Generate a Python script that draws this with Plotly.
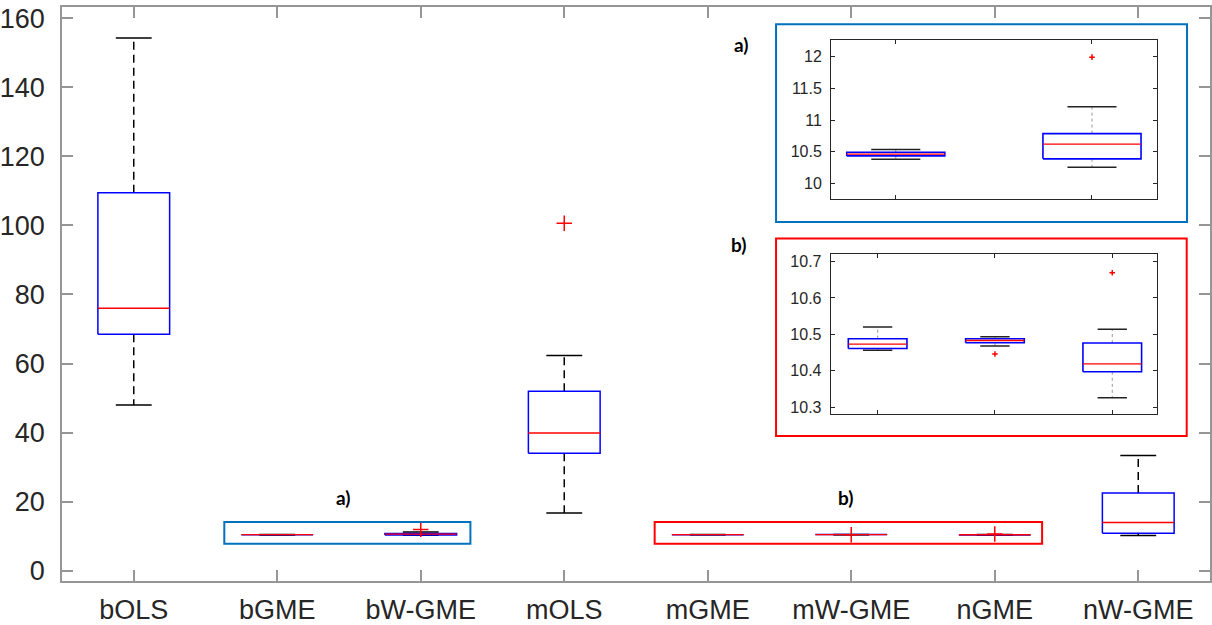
import plotly.graph_objects as go

# ---------------- data ----------------
categories = ["bOLS", "bGME", "bW-GME", "mOLS", "mGME", "mW-GME", "nGME", "nW-GME"]
lower_whisker = [48.0, 10.384, 10.258, 16.7, 10.456, 10.468, 10.326, 10.2]
q1_vals = [68.5, 10.436, 10.389, 34.0, 10.461, 10.477, 10.397, 10.9]
median_vals = [76.0, 10.463, 10.620, 39.9, 10.473, 10.483, 10.419, 14.0]
q3_vals = [109.4, 10.494, 10.787, 52.0, 10.488, 10.488, 10.476, 22.5]
upper_whisker = [154.2, 10.535, 11.210, 62.3, 10.520, 10.493, 10.514, 33.4]

outlier_cat = ["bW-GME", "mOLS", "mW-GME", "nGME"]
outlier_val = [11.99, 100.6, 10.446, 10.669]

inset_a_members = ["bGME", "bW-GME"]
inset_b_members = ["mGME", "mW-GME", "nGME"]

main_yticks = [0, 20, 40, 60, 80, 100, 120, 140, 160]
inset_a_yticks = [10, 10.5, 11, 11.5, 12]
inset_a_yticktext = ["10", "10.5", "11", "11.5", "12"]
inset_b_yticks = [10.3, 10.4, 10.5, 10.6, 10.7]
inset_b_yticktext = ["10.3", "10.4", "10.5", "10.6", "10.7"]

BOX_W = 0.5
BLUE_BOX = "rgb(0,0,255)"
RED = "rgb(255,0,0)"
MATLAB_BLUE = "rgb(0,114,189)"
TICK_FONT = "Liberation Sans, Arial, sans-serif"

fig = go.Figure()


def add_boxes(members, xa, ya, style):
    bx, by, mx, my, wx, wy, cx, cy, ox, oy = [], [], [], [], [], [], [], [], [], []
    for pos, name in enumerate(members, start=1):
        i = categories.index(name)
        l, r = pos - BOX_W / 2, pos + BOX_W / 2
        cl, cr = pos - BOX_W / 4, pos + BOX_W / 4
        bx += [l, r, r, l, l, None]
        by += [q1_vals[i], q1_vals[i], q3_vals[i], q3_vals[i], q1_vals[i], None]
        mx += [l, r, None]
        my += [median_vals[i], median_vals[i], None]
        wx += [pos, pos, None, pos, pos, None]
        wy += [q3_vals[i], upper_whisker[i], None, q1_vals[i], lower_whisker[i], None]
        cx += [cl, cr, None, cl, cr, None]
        cy += [upper_whisker[i], upper_whisker[i], None, lower_whisker[i], lower_whisker[i], None]
        for c, v in zip(outlier_cat, outlier_val):
            if c == name:
                ox.append(pos)
                oy.append(v)
    common = dict(xaxis=xa, yaxis=ya, mode="lines", hoverinfo="skip", showlegend=False)
    fig.add_trace(go.Scatter(x=wx, y=wy, line=style["whisker"], **common))
    fig.add_trace(go.Scatter(x=cx, y=cy, line=style["cap"], **common))
    fig.add_trace(go.Scatter(x=bx, y=by, line=style["box"], **common))
    fig.add_trace(go.Scatter(x=mx, y=my, line=style["median"], **common))
    if ox:
        fig.add_trace(go.Scatter(
            x=ox, y=oy, xaxis=xa, yaxis=ya, mode="markers", showlegend=False,
            marker=dict(symbol="cross-thin", size=style["osize"],
                        line=dict(color=RED, width=style["owidth"]), color=RED)))


main_style = dict(
    whisker=dict(color="black", width=1.5, dash="8px,5px"),
    cap=dict(color="black", width=1.5),
    box=dict(color=BLUE_BOX, width=1.5),
    median=dict(color=RED, width=1.4),
    osize=11, owidth=1.5,
)
inset_style = dict(
    whisker=dict(color="#9a9a9a", width=1, dash="dot"),
    cap=dict(color="#222222", width=1.5),
    box=dict(color=BLUE_BOX, width=1.6),
    median=dict(color=RED, width=1.3),
    osize=4, owidth=1.5,
)

add_boxes(categories, "x", "y", main_style)
add_boxes(inset_a_members, "x2", "y2", inset_style)
add_boxes(inset_b_members, "x3", "y3", inset_style)

main_axis = dict(
    showline=True, linecolor="#969696", linewidth=1.5, mirror="allticks",
    ticks="inside", ticklen=11, tickwidth=1.5, tickcolor="#969696",
    showgrid=False, zeroline=False, automargin=False,
    tickfont=dict(family=TICK_FONT, size=27, color="#262626"),
)
inset_axis = dict(
    showline=True, linecolor="#262626", linewidth=1, mirror="allticks",
    ticks="inside", ticklen=4, tickwidth=1, tickcolor="#262626",
    showgrid=False, zeroline=False, automargin=False,
    tickfont=dict(family=TICK_FONT, size=16, color="#262626"),
)

fig.update_layout(
    width=1212, height=625,
    margin=dict(l=62, r=2, t=7, b=44),
    paper_bgcolor="white", plot_bgcolor="white",
    showlegend=False,
    xaxis=dict(range=[0.5, 8.5], tickvals=list(range(1, len(categories) + 1)),
               ticktext=categories, ticklabelstandoff=4, **main_axis),
    yaxis=dict(range=[-2.95, 163.2], tickvals=main_yticks, ticklabelstandoff=10, **main_axis),
    xaxis2=dict(domain=[0.6699, 0.9536], anchor="y2", range=[0.67, 2.33],
                tickvals=[1, 2], showticklabels=False, **inset_axis),
    yaxis2=dict(domain=[0.6647, 0.9425], anchor="x2", range=[9.75, 12.26],
                tickvals=inset_a_yticks, ticktext=inset_a_yticktext,
                ticklabelstandoff=5, **inset_axis),
    xaxis3=dict(domain=[0.6696, 0.9537], anchor="y3", range=[0.6, 3.38],
                tickvals=[1, 2, 3], showticklabels=False, **inset_axis),
    yaxis3=dict(domain=[0.2915, 0.5693], anchor="x3", range=[10.282, 10.72],
                tickvals=inset_b_yticks, ticktext=inset_b_yticktext,
                ticklabelstandoff=5, **inset_axis),
)

# highlight rectangles on the main chart
fig.add_shape(type="rect", xref="x", yref="y", x0=1.631, x1=3.346, y0=7.8, y1=14.1,
              line=dict(color=MATLAB_BLUE, width=2))
fig.add_shape(type="rect", xref="x", yref="y", x0=4.63, x1=7.33, y0=7.8, y1=14.1,
              line=dict(color=RED, width=2))
# frames around the insets
fig.add_shape(type="rect", xref="paper", yref="paper", x0=0.6220, x1=0.9800, y0=0.6256, y1=0.9698,
              line=dict(color=MATLAB_BLUE, width=2))
fig.add_shape(type="rect", xref="paper", yref="paper", x0=0.6220, x1=0.9797, y0=0.2525, y1=0.5967,
              line=dict(color=RED, width=2))

label_font = dict(family="Lato, Open Sans, sans-serif", size=19, color="black")
anchors = dict(showarrow=False, font=label_font, xanchor="center", yanchor="middle")
fig.add_annotation(text="<b>a)</b>", xref="x", yref="y", x=2.46, y=21.3, **anchors)
fig.add_annotation(text="<b>b)</b>", xref="x", yref="y", x=5.96, y=21.3, **anchors)
fig.add_annotation(text="<b>a)</b>", xref="paper", yref="paper", x=0.592, y=0.934, **anchors)
fig.add_annotation(text="<b>b)</b>", xref="paper", yref="paper", x=0.5897, y=0.5854, **anchors)

fig.write_html("out.html")
